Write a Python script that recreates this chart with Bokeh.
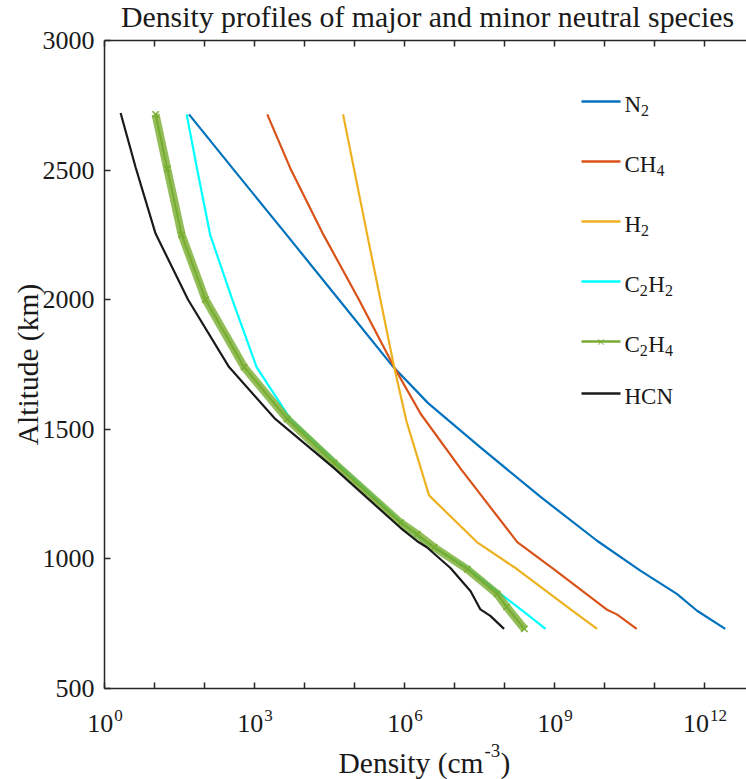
import math
from bokeh.plotting import figure
from bokeh.models import FixedTicker, LogAxis, Label, BoxAnnotation, CustomJSTickFormatter
from bokeh.embed import file_html
from bokeh.resources import INLINE

# ---------------- data ----------------
# altitude in km, density in cm^-3
n2_alt = [2715, 2500, 2250, 2000, 1740, 1600, 1430, 1240, 1070, 955, 865, 800, 730]
n2_den = [4.9e1, 3.9e2, 4.4e3, 4.9e4, 6.0e5, 3.0e6, 3.3e7, 5.2e8, 7.1e9, 5.2e10, 2.8e11, 7.1e11, 2.6e12]

ch4_alt = [2715, 2500, 2250, 2000, 1740, 1560, 1350, 1065, 960, 805, 785, 730]
ch4_den = [1.8e3, 5.4e3, 2.4e4, 1.23e5, 6.2e5, 2.1e6, 1.3e7, 1.8e8, 9.8e8, 1.1e10, 1.8e10, 4.4e10]

h2_alt = [2715, 2250, 1740, 1530, 1245, 1065, 960, 805, 730]
h2_den = [5.9e4, 1.8e5, 6.2e5, 1.1e6, 3.1e6, 2.8e7, 1.8e8, 2.1e9, 7.1e9]

c2h2_alt = [2715, 2505, 2250, 2000, 1740, 1540, 1380, 1145, 1080, 1045, 965, 865, 795, 730]
c2h2_den = [4.4e1, 7.1e1, 1.3e2, 3.6e2, 1.1e3, 5.2e3, 3.9e4, 8.3e5, 2.1e6, 3.9e6, 1.8e7, 8.3e7, 2.5e8, 6.6e8]

c2h4_alt = [2715, 2505, 2250, 2000, 1740, 1540, 1370, 1140, 1095, 1045, 960, 865, 815, 730]
c2h4_den = [1.05e1, 1.8e1, 3.5e1, 1.05e2, 6.2e2, 4.5e3, 3.9e4, 8.3e5, 1.8e6, 3.9e6, 1.8e7, 7.1e7, 1.1e8, 2.5e8]

hcn_alt = [2720, 2510, 2255, 2000, 1740, 1540, 1350, 1120, 1065, 1045, 965, 875, 805, 780, 730]
hcn_den = [2.1e0, 4.2e0, 1.05e1, 4.7e1, 3.1e2, 2.6e3, 3.9e4, 8.3e5, 1.9e6, 2.8e6, 8.3e6, 2.1e7, 3.3e7, 5.2e7, 9.8e7]

x_ticks = [10.0 ** k for k in range(0, 13)]
x_label_exps = [0, 3, 6, 9, 12]
y_ticks = [500, 1000, 1500, 2000, 2500, 3000]

title_text = "Density profiles of major and minor neutral species"
xlabel_main = "Density (cm"
xlabel_sup = "-3"
ylabel_text = "Altitude (km)"

colors = {
    "N2": "#0072BD", "CH4": "#D95319", "H2": "#EDB120",
    "C2H2": "#00FFFF", "C2H4": "#77AC30", "HCN": "#1a1a1a",
}

SERIF = "Liberation Serif"
AX = "#262626"
TXT = "#1a1a1a"

# axes box: x from 1e0 to the right edge, y from 500 to 3000 km
X_MIN, X_MAX = 1.0, 10 ** 12.84
Y_MIN, Y_MAX = 500, 3000

# the frame fills the whole canvas; the axes are pinned at the box edges
p = figure(width=746, height=779, x_axis_type="log",
           x_range=(10 ** -2.08, X_MAX), y_range=(148.92, 3154.32),
           output_backend="svg", toolbar_location=None,
           min_border_left=0, min_border_right=0,
           min_border_top=0, min_border_bottom=0)
p.outline_line_color = None
p.grid.visible = False
p.background_fill_color = "white"
p.border_fill_color = "white"

blank = CustomJSTickFormatter(code="return ''")

def style_axis(ax, ticks, loc, bounds):
    ax.ticker = FixedTicker(ticks=ticks, minor_ticks=[])
    ax.formatter = blank
    ax.fixed_location = loc
    ax.bounds = bounds
    ax.major_tick_in = 6
    ax.major_tick_out = 0
    ax.minor_tick_in = 0
    ax.minor_tick_out = 0
    ax.major_tick_line_color = AX
    ax.major_tick_line_width = 1.5
    ax.axis_line_color = AX
    ax.axis_line_width = 1.5
    ax.major_label_standoff = 0

style_axis(p.xaxis[0], x_ticks, Y_MIN, (X_MIN, X_MAX))
style_axis(p.yaxis[0], y_ticks, X_MIN, (Y_MIN, Y_MAX))
top = LogAxis()
style_axis(top, x_ticks, Y_MAX, (X_MIN, X_MAX))
p.add_layout(top, "above")

# ---------------- curves ----------------
p.line(n2_den, n2_alt, color=colors["N2"], line_width=2.2)
p.line(ch4_den, ch4_alt, color=colors["CH4"], line_width=2.2)
p.line(h2_den, h2_alt, color=colors["H2"], line_width=2.2)
p.line(c2h2_den, c2h2_alt, color=colors["C2H2"], line_width=2.2)
p.line(c2h4_den, c2h4_alt, color=colors["C2H4"], line_width=8, line_alpha=0.8)
p.scatter(c2h4_den, c2h4_alt, marker="x", size=9, line_width=1.5, color=colors["C2H4"])
p.line(c2h4_den, c2h4_alt, color=colors["C2H4"], line_width=2)
p.line(hcn_den, hcn_alt, color=colors["HCN"], line_width=2.2)

# ---------------- texts ----------------
def lab(x, y, text, size, align="left", baseline="middle", xu="canvas", yu="canvas",
        angle=0, color=TXT, x_offset=0):
    p.add_layout(Label(x=x, y=y, x_units=xu, y_units=yu, text=text, angle=angle,
                       x_offset=x_offset, text_font=SERIF, text_font_size=f"{size}px",
                       text_align=align, text_baseline=baseline, text_color=color))

lab(427, 16, title_text, 29.8, align="center")

for v in y_ticks:
    lab(94, v, str(v), 26, align="right", yu="data")

for e in x_label_exps:
    sup = str(e)
    d = (26 - 8.5 * len(sup)) / 2.0
    lab(10.0 ** e, 723, "10", 26, align="right", xu="data", x_offset=d)
    lab(10.0 ** e, 715, sup, 17, align="left", xu="data", x_offset=d + 1)

lab(483, 762, xlabel_main, 29.5, align="right")
lab(484, 750, xlabel_sup, 19)
lab(500, 762, ")", 29.5)
lab(27, 364, ylabel_text, 29.5, align="center", angle=math.pi / 2)

# ---------------- legend ----------------
leg_rows = [
    ("N2", 101, [("N", 0), ("2", 1)]),
    ("CH4", 161, [("CH", 0), ("4", 1)]),
    ("H2", 221, [("H", 0), ("2", 1)]),
    ("C2H2", 281, [("C", 0), ("2", 1), ("H", 0), ("2", 1)]),
    ("C2H4", 341, [("C", 0), ("2", 1), ("H", 0), ("4", 1)]),
    ("HCN", 393, [("HCN", 0)]),
]
widths = {"N": 16.6, "H": 16.6, "C": 15.3, "CH": 31.9, "HCN": 48.5}
for name, yy, parts in leg_rows:
    p.add_layout(BoxAnnotation(left=581, right=620, top=yy - 1.2, bottom=yy + 1.2,
                               left_units="canvas", right_units="canvas",
                               top_units="canvas", bottom_units="canvas",
                               fill_color=colors[name], fill_alpha=1.0, line_color=None))
    xx = 624
    for txt, is_sub in parts:
        if is_sub:
            lab(xx, yy + 8.5, txt, 16)
            xx += 8.5
        else:
            lab(xx, yy + 2.5, txt, 23)
            xx += widths[txt]
    if name == "C2H4":
        lab(600.5, yy, "\u00d7", 15, align="center", color=colors[name])

open("out.html", "w").write(file_html(p, INLINE))
